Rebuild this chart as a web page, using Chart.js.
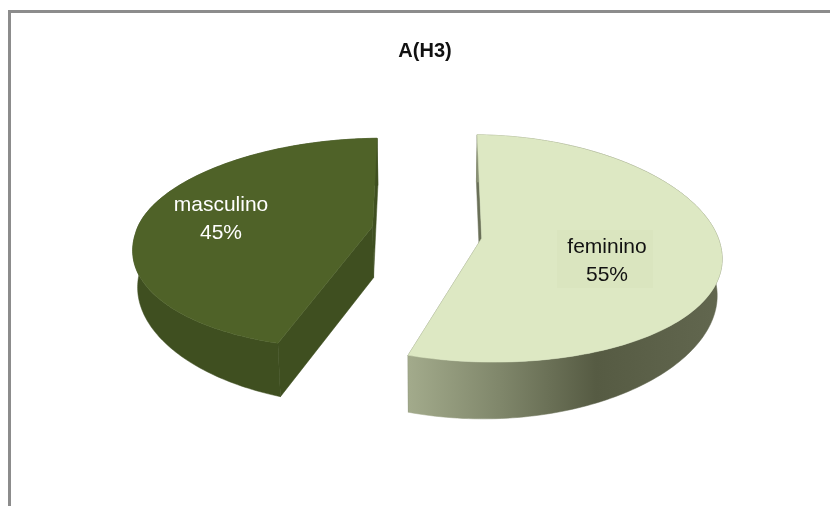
<!DOCTYPE html>
<html lang="pt">
<head>
    <meta charset="UTF-8">
    <title>A(H3)</title>
    <script src="https://cdn.jsdelivr.net/npm/chart.js"></script>
    <style>
        html, body { margin: 0; padding: 0; background: #fff; overflow: hidden; }
        #frame { position: absolute; left: 8px; top: 10px; width: 900px; height: 600px;
                 border-left: 3px solid #8c8c8c; border-top: 3px solid #8c8c8c; }
        #chart { position: absolute; left: 0; top: 0; }
    </style>
</head>
<body>
    <div id="frame"></div>
    <canvas id="chart" width="830" height="506"></canvas>

    <script>
        const chartTitle = "A(H3)";
        const categories = ["feminino", "masculino"];
        const percentages = [55, 45];

        const topColors = ["#dde8c3", "#4f6228"];
        const wallColors = ["#6a7058", "#3f4f20"];
        const labelColors = ["#111111", "#ffffff"];
        const labelCenters = [[607, 261], [221, 219]];

        // projection of the flat pie into the tilted 3D view
        const view = { cx: 427, cy: 232, rx: 238, ry: 112, k: 0.09, depth: 52, shrink: 0.017, tilt: 8, bend: 5 };
        // per slice corrections of the reference's uneven perspective
        const backFlatten = [0, 14];
        const frontShift = [2, -10];

        function toScreen(el, i, cosA, sinA, level) {
            const mid = (el.startAngle + el.endAngle) / 2;
            const e = el.options.offset / el.outerRadius;
            const ou = Math.cos(mid) * e;
            const ov = Math.sin(mid) * e;
            const u = cosA + ou;
            const v = sinA + ov;
            const d = 1 - view.k * v;
            const depth = view.depth * level * (1 - 0.2 * u * u);
            return {
                x: view.cx + view.rx * u / (d + view.shrink * level) + frontShift[i] * Math.max(0, sinA),
                y: view.cy + (view.ry * v + depth) / d + view.tilt * ou + view.bend * u * u
                    + backFlatten[i] * Math.max(0, -sinA)
            };
        }

        function project(el, i, angle, level) {
            return toScreen(el, i, Math.cos(angle), Math.sin(angle), level);
        }

        function apex(el, i, level) {
            return toScreen(el, i, 0, 0, level);
        }

        function fillPath(ctx, points, fill) {
            ctx.beginPath();
            points.forEach((p, n) => n ? ctx.lineTo(p.x, p.y) : ctx.moveTo(p.x, p.y));
            ctx.closePath();
            ctx.fillStyle = fill;
            ctx.fill();
            ctx.strokeStyle = fill;
            ctx.lineWidth = 0.5;
            ctx.stroke();
        }

        function arcPoints(el, i, level, reverse) {
            const pts = [];
            const n = 160;
            for (let s = 0; s <= n; s++) {
                const t = reverse ? 1 - s / n : s / n;
                pts.push(project(el, i, el.startAngle + (el.endAngle - el.startAngle) * t, level));
            }
            return pts;
        }

        const pie3d = {
            id: "pie3d",
            beforeDatasetsDraw(chart) {
                const ctx = chart.ctx;
                const arcs = chart.getDatasetMeta(0).data;
                arcs.forEach((el, i) => {
                    // the two cut walls
                    [el.startAngle, el.endAngle].forEach(a => {
                        fillPath(ctx, [project(el, i, a, 0), project(el, i, a, 1), apex(el, i, 1), apex(el, i, 0)], wallColors[i]);
                    });
                    // outer side
                    let side = wallColors[i];
                    if (i === 0) {
                        side = ctx.createLinearGradient(407, 0, 722, 0);
                        side.addColorStop(0, "#a3ab8c");
                        side.addColorStop(0.3, "#7f866a");
                        side.addColorStop(0.6, "#565b43");
                        side.addColorStop(1, "#62674f");
                    }
                    fillPath(ctx, arcPoints(el, i, 0, false).concat(arcPoints(el, i, 1, true)), side);
                    // top face
                    fillPath(ctx, [apex(el, i, 0)].concat(arcPoints(el, i, 0, false)), topColors[i]);
                });

                // faint box behind the feminino label, then the labels
                ctx.fillStyle = "#dae5bf";
                ctx.fillRect(557, 230, 96, 58);
                ctx.font = "21px 'Liberation Sans', Arial, sans-serif";
                ctx.textAlign = "center";
                ctx.textBaseline = "middle";
                categories.forEach((name, i) => {
                    const [x, y] = labelCenters[i];
                    ctx.fillStyle = labelColors[i];
                    ctx.fillText(name, x, y - 14);
                    ctx.fillText(percentages[i] + "%", x, y + 14);
                });
                return false;
            }
        };

        new Chart(document.getElementById("chart"), {
            type: "pie",
            data: {
                labels: categories,
                datasets: [{
                    data: percentages,
                    backgroundColor: topColors,
                    radius: 100,
                    offset: 23.2
                }]
            },
            options: {
                responsive: false,
                animation: false,
                layout: { padding: { left: 20 } },
                plugins: {
                    legend: { display: false },
                    tooltip: { enabled: false },
                    title: {
                        display: true,
                        text: chartTitle,
                        color: "#111111",
                        font: { family: "'Liberation Sans', Arial, sans-serif", size: 20, weight: "bold" },
                        padding: { top: 39, bottom: 20 }
                    }
                }
            },
            plugins: [pie3d]
        });
    </script>
</body>
</html>
